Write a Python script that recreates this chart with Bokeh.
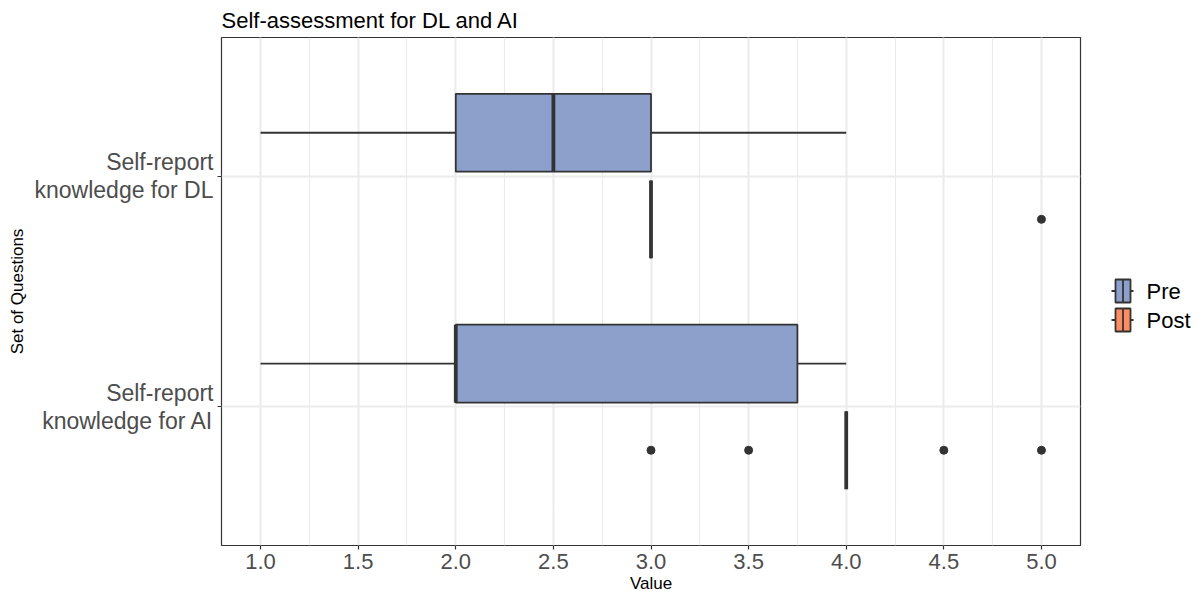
from bokeh.plotting import figure
from bokeh.layouts import row
from bokeh.models import (Range1d, SingleIntervalTicker, FixedTicker, PrintfTickFormatter,
                          ColumnDataSource)
from bokeh.core.properties import value
from bokeh.embed import file_html
from bokeh.resources import INLINE

# ---------------- data ----------------
categories = ["Self-report\nknowledge for DL", "Self-report\nknowledge for AI"]
groups = ["Pre", "Post"]
group_colors = ["#8DA0CB", "#FC8D62"]

pre_min = [1.0, 1.0]
pre_q1 = [2.0, 2.0]
pre_median = [2.5, 2.0]
pre_q3 = [3.0, 3.75]
pre_max = [4.0, 4.0]

post_min = [3.0, 4.0]
post_q1 = [3.0, 4.0]
post_median = [3.0, 4.0]
post_q3 = [3.0, 4.0]
post_max = [3.0, 4.0]

pre_outlier_cat = []
pre_outlier_val = []
post_outlier_cat = ["Self-report\nknowledge for DL",
                    "Self-report\nknowledge for AI", "Self-report\nknowledge for AI",
                    "Self-report\nknowledge for AI", "Self-report\nknowledge for AI"]
post_outlier_val = [5.0, 3.0, 3.5, 4.5, 5.0]

x_ticks_step = 0.5

# ---------------- layout / style ----------------
FONT = "Liberation Sans"
DARK = "#333333"
GRID = "#EBEBEB"
DODGE = 0.1875
HALF = 0.16875

FRAME_L, FRAME_T, FRAME_W, FRAME_H = 221, 37, 859, 508
TOTAL_W, TOTAL_H = 1204, 596
MAIN_RIGHT = 2

cat_pos = {c: len(categories) - i for i, c in enumerate(categories)}

p = figure(frame_width=FRAME_W, frame_height=FRAME_H,
           min_border_left=FRAME_L, min_border_right=MAIN_RIGHT, min_border_top=FRAME_T,
           min_border_bottom=TOTAL_H - FRAME_T - FRAME_H,
           x_range=Range1d(0.8, 5.2), y_range=Range1d(0.4, 2.6),
           output_backend="svg", toolbar_location=None,
           title="Self-assessment for DL and AI")

p.title.text_font = FONT
p.title.text_font_size = "22px"
p.title.text_font_style = "normal"
p.title.text_color = "#000000"
p.title.offset = 0
p.title.standoff = 9

p.outline_line_color = DARK
p.outline_line_width = 1.2
p.background_fill_color = "white"

xaxis = p.xaxis[0]
xaxis.ticker = SingleIntervalTicker(interval=x_ticks_step, num_minor_ticks=2)
xaxis.formatter = PrintfTickFormatter(format="%.1f")
xaxis.axis_label = "Value"
yaxis = p.yaxis[0]
yaxis.ticker = FixedTicker(ticks=[cat_pos[c] for c in categories])
yaxis.major_label_overrides = {cat_pos[c]: c for c in categories}
yaxis.axis_label = "Set of Questions"

for ax in (xaxis, yaxis):
    ax.axis_line_color = None
    ax.major_tick_line_color = DARK
    ax.major_tick_line_width = 1.2
    ax.major_tick_out = 4
    ax.major_tick_in = 0
    ax.minor_tick_line_color = None
    ax.major_label_text_font = FONT
    ax.major_label_text_color = "#4D4D4D"
    ax.axis_label_text_font = FONT
    ax.axis_label_text_font_size = "17px"
    ax.axis_label_text_font_style = "normal"
    ax.axis_label_text_color = "#000000"

xaxis.major_label_text_font_size = "22px"
xaxis.major_label_standoff = 4
xaxis.axis_label_standoff = 2
yaxis.major_label_text_font_size = "23px"
yaxis.major_label_text_line_height = 1.1
yaxis.major_label_standoff = 4
yaxis.axis_label_standoff = 5

p.xgrid.ticker = xaxis.ticker
p.xgrid.grid_line_color = GRID
p.xgrid.grid_line_width = 2
p.xgrid.minor_grid_line_color = GRID
p.xgrid.minor_grid_line_width = 1.1
p.ygrid.ticker = yaxis.ticker
p.ygrid.grid_line_color = GRID
p.ygrid.grid_line_width = 2

stats = {
    "Pre": (pre_min, pre_q1, pre_median, pre_q3, pre_max, pre_outlier_cat, pre_outlier_val, DODGE),
    "Post": (post_min, post_q1, post_median, post_q3, post_max, post_outlier_cat, post_outlier_val, -DODGE),
}

for g, col in zip(groups, group_colors):
    mn, q1, md, q3, mx, ocat, oval, off = stats[g]
    y = [cat_pos[c] + off for c in categories]
    src = ColumnDataSource(dict(y=y, mn=mn, q1=q1, md=md, q3=q3, mx=mx,
                                top=[v + HALF for v in y], bottom=[v - HALF for v in y]))
    p.segment(x0="mn", y0="y", x1="q1", y1="y", source=src, line_color=DARK, line_width=1.8)
    p.segment(x0="q3", y0="y", x1="mx", y1="y", source=src, line_color=DARK, line_width=1.8)
    p.quad(left="q1", right="q3", top="top", bottom="bottom", source=src,
           fill_color=col, line_color=DARK, line_width=1.8)
    p.segment(x0="md", y0="bottom", x1="md", y1="top", source=src, line_color=DARK, line_width=3.8)
    if oval:
        osrc = ColumnDataSource(dict(x=oval, y=[cat_pos[c] + off for c in ocat]))
        p.scatter(x="x", y="y", source=osrc, size=8, marker="circle",
                  fill_color=DARK, line_color=DARK)

# ---------------- legend panel (boxplot-style keys, in page pixel units) ----------------
# The row aligns this panel's frame with the main frame, so its y range spans the frame rows.
LEG_X0 = FRAME_L + FRAME_W + MAIN_RIGHT
leg = figure(width=TOTAL_W - LEG_X0, height=TOTAL_H,
             x_range=Range1d(LEG_X0, TOTAL_W), y_range=Range1d(FRAME_T + FRAME_H, FRAME_T),
             x_axis_type=None, y_axis_type=None, min_border=0,
             output_backend="svg", toolbar_location=None)
leg.outline_line_color = None
leg.grid.visible = False

KEY_CY, KEY_PITCH = 305, 29
KEY_X0, KEY_X1 = 1111, 1133
BOX_X0, BOX_X1 = 1115, 1130
BOX_HALF_H = 11.5
TEXT_X = 1146

cy = [KEY_CY + (i - (len(groups) - 1) / 2) * KEY_PITCH for i in range(len(groups))]
ksrc = ColumnDataSource(dict(
    cy=cy, x0=[KEY_X0] * len(groups), x1=[KEY_X1] * len(groups),
    l=[BOX_X0] * len(groups), r=[BOX_X1] * len(groups),
    t=[v - BOX_HALF_H for v in cy], b=[v + BOX_HALF_H for v in cy],
    mx=[(BOX_X0 + BOX_X1) / 2] * len(groups), tx=[TEXT_X] * len(groups),
    color=group_colors, label=groups))
leg.segment(x0="x0", y0="cy", x1="x1", y1="cy", source=ksrc, line_color=DARK, line_width=1.8)
leg.quad(left="l", right="r", top="t", bottom="b", source=ksrc,
         fill_color="color", line_color=DARK, line_width=1.8)
leg.segment(x0="mx", y0="t", x1="mx", y1="b", source=ksrc, line_color=DARK, line_width=1.8)
leg.text(x="tx", y="cy", text="label", source=ksrc, text_baseline="middle", text_align="left",
         text_font=value(FONT), text_font_size="22px", text_color="#000000")

layout = row(p, leg, spacing=0)
open("out.html", "w").write(file_html(layout, INLINE))
